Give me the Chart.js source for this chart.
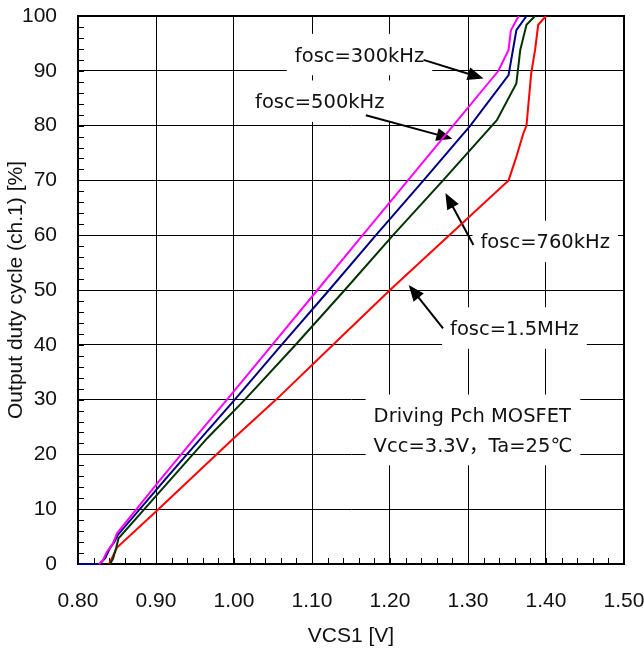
<!DOCTYPE html>
<html>
<head>
<meta charset="utf-8">
<script src="https://cdn.jsdelivr.net/npm/chart.js@4.4.1/dist/chart.umd.min.js"></script>
<style>
  html, body { margin: 0; padding: 0; background: #fff; }
</style>
</head>
<body>
<canvas id="chart" width="644" height="653"></canvas>
<script>
// 図から読み取った値（VCS1 [V] → デューティ [%]）
const x300 = [0.827, 0.832, 0.837, 0.845, 0.850, 0.905, 0.948, 0.991, 1.049, 1.107, 1.165, 1.223, 1.281, 1.339, 1.352, 1.355, 1.365];
const y300 = [0, 0.7, 2.2, 3.8, 5.6, 15.3, 22.7, 30, 40, 50, 60, 70, 80, 90, 93.8, 97.4, 100];

const x500 = [0.800, 0.828, 0.835, 0.841, 0.847, 0.851, 0.911, 0.958, 1.001, 1.061, 1.122, 1.182, 1.243, 1.303, 1.352, 1.362, 1.375];
const y500 = [0, 0, 1.1, 2.9, 4.1, 5.3, 15.3, 23, 30, 40, 50, 60, 70, 80, 89.2, 97.4, 100];

const x760 = [0.841, 0.845, 0.849, 0.852, 0.918, 0.966, 1.014, 1.079, 1.142, 1.204, 1.268, 1.337, 1.362, 1.367, 1.375, 1.386];
const y760 = [0, 1, 3, 4.7, 15.3, 23, 30, 40, 50, 60, 70, 81, 87.7, 93.8, 98.4, 100];

const x1500 = [0.840, 0.845, 0.850, 0.900, 0.950, 1.000, 1.054, 1.127, 1.200, 1.276, 1.352, 1.362, 1.371, 1.375, 1.381, 1.386, 1.390, 1.400];
const y1500 = [0, 1.5, 3, 9.6, 16.3, 23, 30, 40, 50, 60, 70, 74.3, 78.6, 80, 89.5, 93.8, 98.4, 100];

const seriesNames = ['fosc=300kHz', 'fosc=500kHz', 'fosc=760kHz', 'fosc=1.5MHz'];
const noteLines = ['Driving Pch MOSFET', 'Vcc=3.3V，Ta=25℃'];

// 軸
const xMin = 0.8, xMax = 1.5, xStep = 0.1, xMinor = 0.02;
const yMin = 0, yMax = 100, yStep = 10, yMinor = 2;

// 注記（データ座標）：文字の左端・中心、矢印の始点→先端
const notes = [
    { lines: [seriesNames[0]], x: 1.078, y: 92.6, arrow: [1.243, 92.0, 1.320, 88.6] },
    { lines: [seriesNames[1]], x: 1.027, y: 84.1, arrow: [1.169, 81.9, 1.280, 77.6] },
    { lines: [seriesNames[2]], x: 1.316, y: 58.5, arrow: [1.307, 58.2, 1.271, 67.7] },
    { lines: [seriesNames[3]], x: 1.277, y: 42.7, arrow: [1.268, 43.0, 1.224, 50.9] },
    { lines: noteLines, x: 1.179, y: 24.1 }
];

const toPoints = (xs, ys) => xs.map((v, i) => ({ x: v, y: ys[i] }));

function drawArrow(ctx, x1, y1, x2, y2) {
    const ang = Math.atan2(y2 - y1, x2 - x1);
    const len = 16, half = 6.5;
    ctx.beginPath();
    ctx.moveTo(x1, y1);
    ctx.lineTo(x2 - Math.cos(ang) * len * 0.8, y2 - Math.sin(ang) * len * 0.8);
    ctx.stroke();
    ctx.beginPath();
    ctx.moveTo(x2, y2);
    ctx.lineTo(x2 - Math.cos(ang) * len + Math.sin(ang) * half, y2 - Math.sin(ang) * len - Math.cos(ang) * half);
    ctx.lineTo(x2 - Math.cos(ang) * len - Math.sin(ang) * half, y2 - Math.sin(ang) * len + Math.cos(ang) * half);
    ctx.closePath();
    ctx.fill();
}

// 補助目盛・枠・注記を描くプラグイン
const notesPlugin = {
    id: 'notes',
    beforeDatasetsDraw(chart) {
        const { ctx, chartArea: a, scales: { x, y } } = chart;
        ctx.save();
        ctx.strokeStyle = '#000';
        ctx.fillStyle = '#000';
        ctx.lineWidth = 1;

        // 内向きの補助目盛
        const nx = Math.round((xMax - xMin) / xMinor);
        for (let i = 0; i <= nx; i++) {
            const px = Math.round(x.getPixelForValue(xMin + i * xMinor)) + 0.5;
            ctx.beginPath(); ctx.moveTo(px, a.bottom); ctx.lineTo(px, a.bottom - 6); ctx.stroke();
        }
        const ny = Math.round((yMax - yMin) / yMinor);
        for (let i = 0; i <= ny; i++) {
            const py = Math.round(y.getPixelForValue(yMin + i * yMinor)) + 0.5;
            ctx.beginPath(); ctx.moveTo(a.left, py); ctx.lineTo(a.left + 6, py); ctx.stroke();
        }

        // 枠
        ctx.lineWidth = 2;
        ctx.strokeRect(a.left, a.top, a.right - a.left, a.bottom - a.top);

        // 注記
        ctx.font = '19.5px "DejaVu Sans", "Noto Sans CJK JP", sans-serif';
        ctx.textBaseline = 'middle';
        ctx.textAlign = 'left';
        const lh = 29.4;
        notes.forEach(n => {
            const left = x.getPixelForValue(n.x);
            const cy = y.getPixelForValue(n.y);
            const w = Math.max(...n.lines.map(t => ctx.measureText(t).width));
            const h = n.lines.length * lh + 12;
            ctx.fillStyle = '#fff';
            ctx.fillRect(left - 8, cy - h / 2 - 2, w + 16, h);
            ctx.fillStyle = '#111';
            n.lines.forEach((t, i) => {
                ctx.fillText(t, left, cy + (i - (n.lines.length - 1) / 2) * lh);
            });
            if (n.arrow) {
                ctx.fillStyle = '#000';
                ctx.lineWidth = 2;
                drawArrow(ctx,
                    x.getPixelForValue(n.arrow[0]), y.getPixelForValue(n.arrow[1]),
                    x.getPixelForValue(n.arrow[2]), y.getPixelForValue(n.arrow[3]));
            }
        });
        ctx.restore();
    }
};

Chart.defaults.font.family = '"Liberation Sans", Arial, sans-serif';
Chart.defaults.font.size = 21;
Chart.defaults.color = '#111';

new Chart(document.getElementById('chart'), {
    type: 'line',
    data: {
        datasets: [
            { label: seriesNames[0], data: toPoints(x300, y300), borderColor: '#ff00ff' },
            { label: seriesNames[1], data: toPoints(x500, y500), borderColor: '#000080' },
            { label: seriesNames[2], data: toPoints(x760, y760), borderColor: '#003300' },
            { label: seriesNames[3], data: toPoints(x1500, y1500), borderColor: '#ff0000' }
        ].map(d => Object.assign(d, { borderWidth: 2, pointRadius: 0, tension: 0, fill: false, clip: false }))
    },
    options: {
        responsive: false,
        animation: false,
        layout: { padding: { top: 16, right: 20, left: 0, bottom: 0 } },
        plugins: { legend: { display: false }, tooltip: { enabled: false } },
        scales: {
            x: {
                type: 'linear',
                min: xMin, max: xMax,
                afterFit: s => { s.height = 89; s.paddingLeft = 0; s.paddingRight = 0; },
                ticks: { stepSize: xStep, padding: 25, callback: v => Number(v).toFixed(2) },
                grid: { color: '#000', lineWidth: 1, drawTicks: false },
                border: { color: '#000', width: 2 },
                title: { display: true, text: 'VCS1 [V]', padding: { bottom: 4 } }
            },
            y: {
                type: 'linear',
                min: yMin, max: yMax,
                afterFit: s => { s.width = 78; s.paddingTop = 0; s.paddingBottom = 0; },
                ticks: { stepSize: yStep, padding: 21 },
                grid: { color: '#000', lineWidth: 1, drawTicks: false },
                border: { color: '#000', width: 2 },
                title: { display: true, text: 'Output duty cycle (ch.1) [%]', padding: { top: 4 } }
            }
        }
    },
    plugins: [notesPlugin]
});
</script>
</body>
</html>
